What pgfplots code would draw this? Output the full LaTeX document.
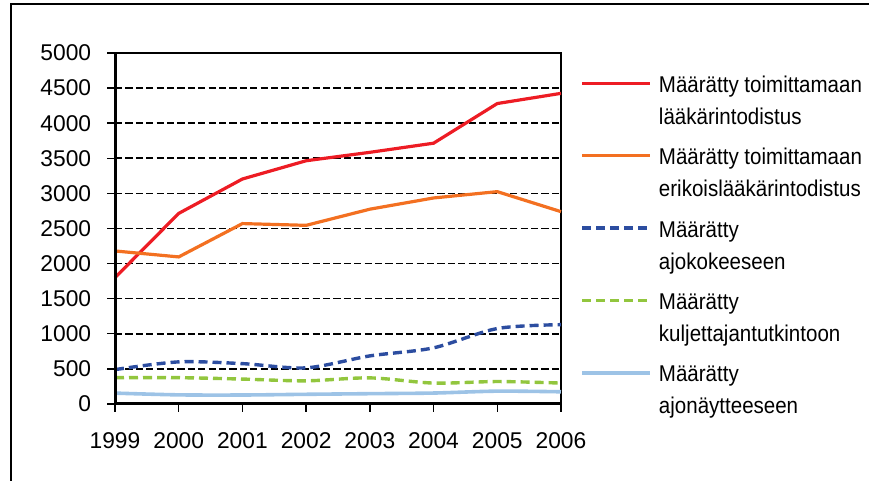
\documentclass[border=0pt]{standalone}
\usepackage{fontspec}
\setmainfont{Liberation Sans}
\newfontfamily\legfont{Liberation Sans}[FakeStretch=0.9]
\usepackage{pgfplots}
\pgfplotsset{compat=1.18}
\definecolor{cred}{RGB}{237,28,36}
\definecolor{corange}{RGB}{243,112,33}
\definecolor{cblue}{RGB}{44,77,160}
\definecolor{cgreen}{RGB}{146,198,62}
\definecolor{clight}{RGB}{157,195,230}
\begin{document}
\begin{tikzpicture}
\useasboundingbox (0,0) rectangle (434.5pt,240.5pt);
\draw[line width=0.75pt] (5.5pt,-2pt) -- (5.5pt,238.5pt) -- (440pt,238.5pt);
\begin{axis}[
  at={(57.5pt,38.5pt)}, anchor=south west,
  scale only axis, width=223pt, height=175.5pt,
  xmin=1999, xmax=2006, ymin=0, ymax=5000,
  xtick={1999,2000,2001,2002,2003,2004,2005,2006},
  ytick={0,500,...,5000},
  tick pos=left, tick align=outside, major tick length=3.8pt,
  every tick/.style={black, line width=0.7pt},
  axis line style={black, line width=0.7pt},
  ymajorgrids,
  major grid style={black, line width=0.8pt, dash pattern=on 3.6pt off 1.6pt},
  font=\fontsize{11.4}{13}\selectfont,
  /pgf/number format/assume math mode=true,
  /pgf/number format/1000 sep={},
  yticklabel style={xshift=-4.6pt},
  xticklabel style={yshift=-7.2pt},
  clip=false,
  legend style={at={(1,1)}, anchor=north west, xshift=9.5pt, yshift=-8.3pt,
    draw=none, fill=none, inner sep=0pt, row sep=23.5pt, column sep=0pt,
    font=\legfont\fontsize{11.4}{16}\selectfont,
    cells={anchor=base west},
    nodes={inner xsep=3.5pt, inner ysep=0pt}},
  legend image code/.code={\draw[#1] (0pt,4.5pt) -- (34pt,4.5pt);},
]
\addplot[cred, line width=1.6pt] coordinates {
 (1999,1800) (2000,2715) (2001,3205) (2002,3465) (2003,3585) (2004,3715) (2005,4280) (2006,4425)};
\addlegendentry{\begin{tabular}[t]{@{}l@{}}Määrätty toimittamaan\\lääkärintodistus\end{tabular}}
\addplot[corange, line width=1.6pt] coordinates {
 (1999,2180) (2000,2095) (2001,2570) (2002,2545) (2003,2775) (2004,2935) (2005,3025) (2006,2740)};
\addlegendentry{\begin{tabular}[t]{@{}l@{}}Määrätty toimittamaan\\erikoislääkärintodistus\end{tabular}}
\addplot[cblue, line width=1.7pt, dash pattern=on 4.5pt off 2.5pt, smooth, tension=0.5] coordinates {
 (1999,490) (2000,600) (2001,575) (2002,515) (2003,685) (2004,800) (2005,1075) (2006,1130)};
\addlegendentry{\begin{tabular}[t]{@{}l@{}}Määrätty\\ajokokeeseen\end{tabular}}
\addplot[cgreen, line width=1.7pt, dash pattern=on 4.5pt off 2.5pt, smooth, tension=0.5] coordinates {
 (1999,375) (2000,375) (2001,355) (2002,330) (2003,372) (2004,298) (2005,320) (2006,298)};
\addlegendentry{\begin{tabular}[t]{@{}l@{}}Määrätty\\kuljettajantutkintoon\end{tabular}}
\addplot[clight, line width=1.8pt, smooth, tension=0.5] coordinates {
 (1999,155) (2000,130) (2001,128) (2002,138) (2003,147) (2004,156) (2005,183) (2006,174)};
\addlegendentry{\begin{tabular}[t]{@{}l@{}}Määrätty\\ajonäytteeseen\end{tabular}}
\draw[black, line width=1.5pt] (rel axis cs:0,1) -- (rel axis cs:0,0) -- (rel axis cs:1,0);
\end{axis}
\end{tikzpicture}
\end{document}
